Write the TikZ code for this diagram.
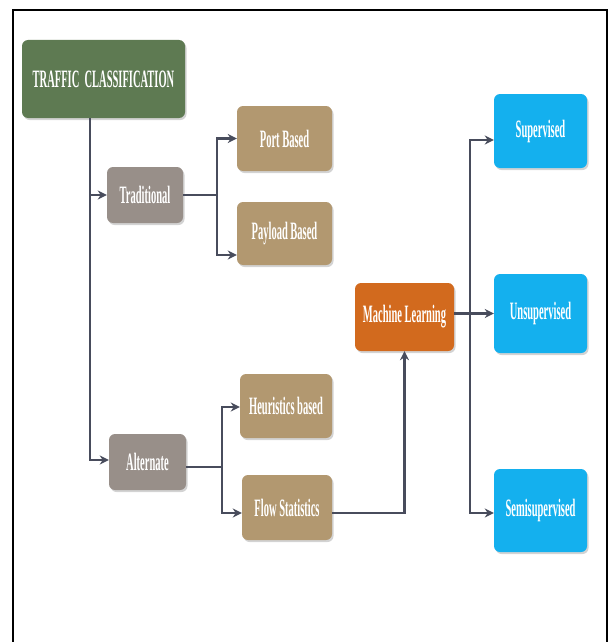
\documentclass[tikz,border=0pt]{standalone}
\usepackage{fontspec}
\usepackage{tikz}
\usetikzlibrary{arrows.meta,shadows}
\newfontfamily\boxfont[FakeStretch=0.42]{Liberation Serif}

\definecolor{tcgreen}{RGB}{94,122,82}
\definecolor{taupe}{RGB}{152,143,137}
\definecolor{tan}{RGB}{178,152,112}
\definecolor{mlorange}{RGB}{210,106,30}
\definecolor{skyblue}{RGB}{20,176,238}
\definecolor{linkgray}{RGB}{72,76,92}

\begin{document}
\begin{tikzpicture}[x=1pt,y=-1pt,
    box/.style={rounded corners=6pt, text=white, align=center,
        font=\boxfont\bfseries\fontsize{25}{27}\selectfont,
        drop shadow={opacity=0.35, shadow xshift=1.5pt, shadow yshift=-2pt}},
    link/.style={draw=linkgray, line width=2.2pt,
        -{Stealth[length=9pt,width=9pt]}}]

        \useasboundingbox (0,0) rectangle (609,642);
        \draw[line width=1.5pt] (13,642) -- (13,10) -- (607,10) -- (607,642);

        \node[box, fill=tcgreen, minimum width=163pt, minimum height=78pt] (tc) at (103.5,79) {TRAFFIC\ \ CLASSIFICATION};

        \node[box, fill=taupe, minimum width=76pt, minimum height=56pt] (trad) at (145,195) {Traditional};
        \node[box, fill=taupe, minimum width=77pt, minimum height=56pt] (alt) at (147.5,462) {Alternate};

        \node[box, fill=tan, minimum width=95pt, minimum height=65pt] (port) at (284.5,138.5) {Port Based};
        \node[box, fill=tan, minimum width=95pt, minimum height=63pt] (payload) at (284.5,233.5) {Payload Based};
        \node[box, fill=tan, minimum width=92pt, minimum height=64pt] (heur) at (286,406) {Heuristics based};
        \node[box, fill=tan, minimum width=90pt, minimum height=65pt] (flow) at (287,507.5) {Flow Statistics};

        \node[box, fill=mlorange, minimum width=99pt, minimum height=68pt] (ml) at (404.5,317) {Machine Learning};

        \node[box, fill=skyblue, minimum width=93pt, minimum height=74pt] (sup) at (540.5,131) {Supervised};
        \node[box, fill=skyblue, minimum width=93pt, minimum height=79pt] (unsup) at (540.5,313.5) {Unsupervised};
        \node[box, fill=skyblue, minimum width=93pt, minimum height=83pt] (semi) at (540.5,510.5) {Semisupervised};

        % trunk
        \draw[link] ([xshift=-13.5pt]tc.south) |- (trad.west);
        \draw[link] ([xshift=-13.5pt]tc.south) |- ([yshift=2pt]alt.west);

        \draw[link] (trad.east) -- ++(34,0) |- (port.west);
        \draw[link] (trad.east) -- ++(34,0) |- ([yshift=-21.5pt]payload.west);

        \draw[link] ([yshift=-5pt]alt.east) -- ++(36,0) |- ([yshift=-1pt]heur.west);
        \draw[link] ([yshift=-5pt]alt.east) -- ++(36,0) |- ([yshift=-5.5pt]flow.west);

        \draw[link] ([yshift=-5.5pt]flow.east) -| (ml.south);

        \coordinate (hub) at (470,313);
        \draw[link] (ml.east |- unsup.west) -- (unsup.west);
        \draw[link] (hub) |- ([yshift=-9pt]sup.west);
        \draw[link] (hub) |- ([yshift=-2.5pt]semi.west);
        % Grid
        %\draw[help lines] (0,0) grid (609,642);
\end{tikzpicture}
\end{document}
